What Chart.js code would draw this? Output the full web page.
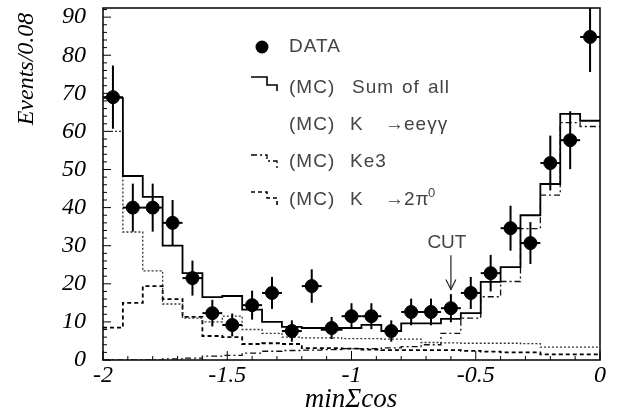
<!DOCTYPE html>
<html><head><meta charset="utf-8">
<script src="https://cdn.jsdelivr.net/npm/chart.js@4.4.1/dist/chart.umd.min.js"></script>
<style>html,body{margin:0;padding:0;background:#fff}#wrap{width:617px;height:417px}</style>
</head><body><div id="wrap"><canvas id="c" width="617" height="417"></canvas></div>
<script>
// bin centres of min Σcos (bin width 0.08)
const binCenters = [-1.96,-1.88,-1.80,-1.72,-1.64,-1.56,-1.48,-1.40,-1.32,-1.24,-1.16,-1.08,-1.00,-0.92,-0.84,-0.76,-0.68,-0.60,-0.52,-0.44,-0.36,-0.28,-0.20,-0.12,-0.04];
const binHalf = 0.04;
const dataValues = [69,40,40,36,21.5,12.3,9.2,14.4,17.6,7.6,19.4,8.4,11.5,11.5,7.6,12.6,12.6,13.6,17.6,22.8,34.6,30.7,51.7,57.7,84.8];
const dataErrors = [8.3,6.3,6.3,6.0,4.6,3.5,3.0,3.8,4.2,2.8,4.4,2.9,3.4,3.4,2.8,3.5,3.5,3.7,4.2,4.8,5.9,5.5,7.2,7.6,9.2];
const mcSum  = [68.8,48.3,42.8,30,22.8,16.5,16.8,13.2,10,8.7,8.4,7.9,8.4,9.2,7.6,9.6,9.6,10.8,12.3,20.5,24.4,38,46.2,64.6,62.8];
const mcEegg = [60,33.6,23.4,14.7,11,10,11.5,8,7,6,5.8,5.8,5.6,5.6,5.5,5.5,4.6,4.5,4.4,4.4,4.4,4.3,3.4,3.4,3.4];
const mcKe3  = [0,0,0,0.3,0.5,1,1.2,1.8,2.3,2.5,2.6,2.7,3,3,3.2,3.5,4,7,11,16.6,20.6,34.5,43.3,62.3,61.3];
const mc2pi0 = [8.5,15,19.4,16,11.3,6.3,6,4.2,4.4,4.2,3.1,3.1,3.0,2.7,2.6,2.6,2.6,2.6,2.4,2.2,2.0,2.0,1.5,1.5,1.5];
const xTicks = [-2,-1.5,-1,-0.5,0];
const yTicks = [0,10,20,30,40,50,60,70,80,90];
const cutValue = -0.6;

function steps(vals){
  const pts = binCenters.map((c,i)=>({x:c-binHalf,y:vals[i]}));
  pts.push({x:binCenters[binCenters.length-1]+binHalf,y:vals[vals.length-1]});
  return pts;
}
const serif = '"Liberation Serif","DejaVu Serif",serif';
const sans = '"Liberation Sans","DejaVu Sans",sans-serif';

const framePlugin = {
  id:'frame',
  beforeDatasetsDraw(chart){
    const {ctx, chartArea:a, scales:{x,y}} = chart;
    ctx.save();
    ctx.strokeStyle='#000'; ctx.lineWidth=1.5;
    ctx.strokeRect(a.left,a.top,a.right-a.left,a.bottom-a.top);
    ctx.lineWidth=1;
    for(let v=0; v<=92; v+=2){
      const py=y.getPixelForValue(v); const len = v%10===0?8:4;
      ctx.beginPath(); ctx.moveTo(a.left,py); ctx.lineTo(a.left+len,py); ctx.stroke();
    }
    for(let k=-20;k<=0;k++){
      const v=k/10; const px=x.getPixelForValue(v); const len = (k%5===0)?9:4;
      ctx.beginPath(); ctx.moveTo(px,a.bottom); ctx.lineTo(px,a.bottom-len); ctx.stroke();
    }
    ctx.restore();
  },
  afterDatasetsDraw(chart){
    const {ctx, scales:{x,y}} = chart;
    ctx.save();
    ctx.strokeStyle='#000'; ctx.lineWidth=2;
    binCenters.forEach((c,i)=>{
      const px=x.getPixelForValue(c), py=y.getPixelForValue(dataValues[i]);
      const top=Math.max(y.getPixelForValue(dataValues[i]+dataErrors[i]), chart.chartArea.top);
      const bot=y.getPixelForValue(dataValues[i]-dataErrors[i]);
      ctx.beginPath(); ctx.moveTo(px,top); ctx.lineTo(px,bot); ctx.stroke();
      ctx.beginPath(); ctx.moveTo(x.getPixelForValue(c-binHalf),py); ctx.lineTo(x.getPixelForValue(c+binHalf),py); ctx.stroke();
    });
    // CUT arrow
    const ax=x.getPixelForValue(cutValue);
    const y1=y.getPixelForValue(27.5), y2=y.getPixelForValue(18.5);
    ctx.lineWidth=1.2; ctx.strokeStyle='#222';
    ctx.beginPath(); ctx.moveTo(ax,y1); ctx.lineTo(ax,y2); ctx.stroke();
    ctx.beginPath(); ctx.moveTo(ax-5,y2-10); ctx.lineTo(ax,y2); ctx.lineTo(ax+5,y2-10); ctx.stroke();
    ctx.fillStyle='#444'; ctx.font='19px '+sans; ctx.textAlign='center'; ctx.textBaseline='middle';
    ctx.fillText('CUT', ax-4, y.getPixelForValue(30.8));
    // axis titles
    ctx.fillStyle='#000';
    ctx.font='italic 27px '+serif; ctx.textAlign='center'; ctx.textBaseline='middle';
    ctx.fillText('minΣcos', 351, 400);
    ctx.save(); ctx.translate(27,69); ctx.rotate(-Math.PI/2);
    ctx.font='italic 24px '+serif; ctx.fillText('Events/0.08',0,0); ctx.restore();
    // legend
    ctx.fillStyle='#000';
    ctx.beginPath(); ctx.arc(262,47,6.5,0,Math.PI*2); ctx.fill();
    ctx.strokeStyle='#000'; ctx.lineWidth=1.6;
    ctx.beginPath(); ctx.moveTo(251,77); ctx.lineTo(267,77); ctx.lineTo(267,85); ctx.lineTo(277,85); ctx.lineTo(277,91); ctx.stroke();
    ctx.lineWidth=1.3; ctx.setLineDash([6,3,2,3]);
    ctx.beginPath(); ctx.moveTo(251,155); ctx.lineTo(267,155); ctx.lineTo(267,161); ctx.lineTo(277,161); ctx.lineTo(277,169); ctx.stroke();
    ctx.lineWidth=1.6; ctx.setLineDash([4,3]);
    ctx.beginPath(); ctx.moveTo(251,192); ctx.lineTo(267,192); ctx.lineTo(267,198); ctx.lineTo(277,198); ctx.lineTo(277,206); ctx.stroke();
    ctx.setLineDash([]);
    ctx.fillStyle='#444'; ctx.font='19px '+sans; ctx.textAlign='left'; ctx.textBaseline='middle';
    try{ ctx.letterSpacing='1px'; }catch(e){}
    const rows=[
      [47,[[289,'DATA']]],
      [88,[[289,'(MC)'],[352,'Sum'],[402,'of'],[428,'all']]],
      [125,[[289,'(MC)'],[350,'K'],[385,'→'],[404,'eeγγ']]],
      [162,[[289,'(MC)'],[350,'Ke3']]],
      [200,[[289,'(MC)'],[350,'K'],[385,'→'],[404,'2π']]]
    ];
    rows.forEach(([ty,parts])=>parts.forEach(([tx,t])=>ctx.fillText(t,tx,ty)));
    ctx.font='13px '+sans; ctx.fillText('0',428,193);
    ctx.restore();
  }
};

new Chart(document.getElementById('c'),{
  type:'scatter',
  data:{datasets:[
    {label:'DATA',data:binCenters.map((c,i)=>({x:c,y:dataValues[i]})),pointRadius:6.5,pointHoverRadius:6.5,backgroundColor:'#000',borderColor:'#000',showLine:false,order:0},
    {label:'Sum',data:steps(mcSum),showLine:true,stepped:'before',borderColor:'#000',borderWidth:1.8,pointRadius:0,fill:false,order:1},
    {label:'eegg',data:steps(mcEegg),showLine:true,stepped:'before',borderColor:'#333',borderWidth:1.3,borderDash:[2,2],pointRadius:0,fill:false,order:2},
    {label:'Ke3',data:steps(mcKe3),showLine:true,stepped:'before',borderColor:'#111',borderWidth:1.3,borderDash:[6,3,2,3],pointRadius:0,fill:false,order:3},
    {label:'2pi0',data:steps(mc2pi0),showLine:true,stepped:'before',borderColor:'#000',borderWidth:1.8,borderDash:[4,3],pointRadius:0,fill:false,order:4}
  ]},
  options:{
    responsive:false, animation:false, events:[],
    layout:{padding:{top:8,right:17,left:0,bottom:0}},
    plugins:{legend:{display:false},tooltip:{enabled:false}},
    scales:{
      x:{type:'linear',min:-2,max:0,
        afterBuildTicks(s){s.ticks=xTicks.map(v=>({value:v}));},
        afterFit(s){s.height=57; s.paddingLeft=0; s.paddingRight=0;},
        grid:{display:false,drawTicks:false},border:{display:false},
        ticks:{padding:1,color:'#000',font:{family:serif,style:'italic',size:24},callback:v=>String(v).replace('−','-'),maxRotation:0,autoSkip:false}},
      y:{type:'linear',min:0,max:92.4,
        afterBuildTicks(s){s.ticks=yTicks.map(v=>({value:v}));},
        afterFit(s){s.width=103; s.paddingTop=0; s.paddingBottom=0;},
        grid:{display:false,drawTicks:false},border:{display:false},
        ticks:{padding:17,color:'#000',font:{family:serif,style:'italic',size:24}}}
    }
  },
  plugins:[framePlugin]
});
</script></body></html>
